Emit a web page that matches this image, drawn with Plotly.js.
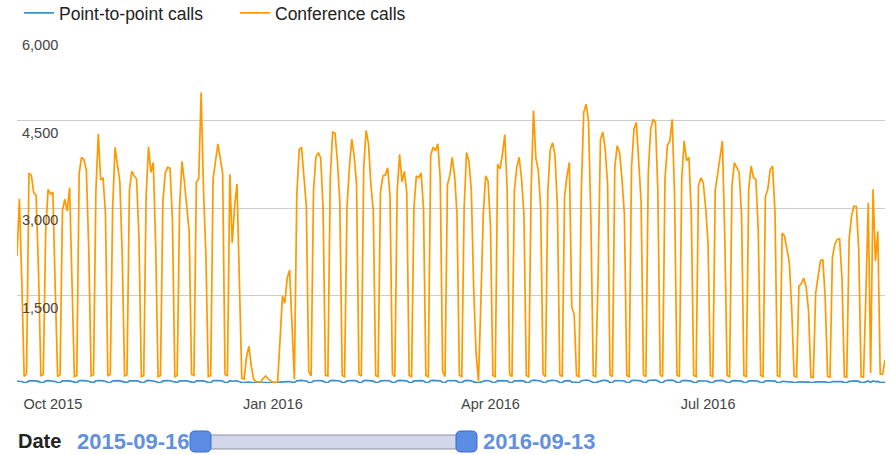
<!DOCTYPE html>
<html><head><meta charset="utf-8">
<script src="https://cdn.plot.ly/plotly-3.0.1.min.js"></script>
<style>html,body{margin:0;padding:0;background:#fff}#chart{width:891px;height:455px}</style>
</head><body><div id="chart"></div>
<script>
// ---- data ----
const startDate = '2015-09-16';
const endDate = '2016-09-13';
const seriesNames = ['Point-to-point calls', 'Conference calls'];

// daily values, Wed 2015-09-16 ... Tue 2016-09-13 (one row per Mon..Sun week)
const conferenceCalls = [
  2180, 3160, 1750, 110, 160,
  3600, 3560, 3260, 3220, 1900, 120, 150,
  2600, 3320, 3240, 3270, 1600, 110, 140,
  2950, 3150, 2950, 3350, 1700, 110, 130,
  3600, 3870, 3830, 3650, 2300, 120, 140,
  3300, 4270, 3490, 3510, 2900, 120, 150,
  3000, 4040, 3700, 3450, 2200, 120, 140,
  3300, 3630, 3550, 3500, 2500, 110, 130,
  3200, 4050, 3610, 3780, 2350, 110, 130,
  3100, 3600, 3700, 3680, 2800, 100, 130,
  3030, 3800, 3450, 3000, 2600, 150, 130,
  3440, 3500, 4980, 3300, 2200, 110, 130,
  3500, 3800, 4100, 3850, 3600, 150, 120,
  3580, 2400, 3030, 3410, 1750, 80, 70,
  450, 630, 280, 60, 25, 20, 20,
  80, 120, 70, 35, 15, 10, 20,
  740, 1490, 1370, 1800, 1935, 900, 60,
  3200, 4000, 4040, 3490, 3030, 200, 120,
  3300, 3870, 3950, 3860, 3000, 130, 120,
  3500, 4300, 4280, 3800, 3100, 130, 110,
  3000, 3700, 4180, 3900, 3400, 150, 120,
  3700, 4330, 4100, 3400, 2950, 130, 110,
  3260, 3550, 3560, 3690, 3200, 150, 110,
  3300, 3920, 3450, 3630, 3270, 130, 110,
  3000, 3550, 3520, 3600, 3000, 130, 110,
  3900, 4040, 3980, 4100, 3500, 200, 110,
  3400, 3550, 3870, 3550, 2900, 130, 110,
  3000, 3950, 3800, 3300, 1600, 500, 30,
  1400, 2900, 3550, 3460, 2700, 130, 110,
  3750, 3670, 3920, 4260, 3300, 150, 110,
  3300, 3700, 3870, 3500, 2900, 130, 110,
  3300, 4670, 3850, 3650, 3000, 150, 110,
  3300, 4000, 4120, 3900, 3000, 140, 110,
  3200, 3550, 3780, 1300, 1180, 130, 110,
  3300, 4640, 4780, 4500, 2800, 130, 110,
  1800, 4180, 4300, 4000, 3400, 140, 110,
  3700, 4070, 3950, 3500, 2900, 130, 110,
  3700, 4350, 4470, 3800, 3100, 140, 110,
  3600, 4350, 4520, 4470, 3300, 140, 110,
  3500, 4070, 4150, 4520, 3200, 140, 110,
  3500, 4150, 3810, 3870, 2900, 130, 110,
  3380, 3520, 3430, 3000, 2400, 130, 110,
  3300, 3600, 3850, 4150, 2500, 130, 110,
  3380, 3780, 3700, 3610, 2900, 130, 110,
  3320, 3720, 3520, 3490, 2600, 130, 110,
  3200, 3320, 3660, 3720, 2900, 130, 110,
  2570, 2520, 2290, 2060, 1250, 120, 100,
  1660, 1700, 1800, 1650, 1250, 100, 90,
  1540, 1830, 2090, 2120, 1450, 110, 100,
  2150, 2380, 2460, 2470, 1800, 110, 100,
  2460, 2860, 3030, 3030, 2300, 110, 100,
  1500, 3090, 170, 3320, 2090, 2600, 150,
  150, 400
];

const pointToPointCalls = [
  30, 34, 26, 9, 8,
  38, 41, 36, 35, 27, 8, 7,
  36, 40, 39, 37, 26, 9, 7,
  37, 42, 38, 36, 28, 8, 6,
  40, 44, 41, 38, 29, 9, 7,
  39, 45, 40, 37, 30, 8, 7,
  37, 43, 41, 36, 27, 9, 6,
  38, 41, 40, 38, 28, 8, 7,
  36, 44, 39, 40, 26, 8, 7,
  37, 42, 41, 39, 29, 7, 6,
  38, 43, 39, 35, 27, 9, 7,
  39, 40, 46, 37, 26, 8, 6,
  40, 42, 44, 41, 35, 9, 7,
  41, 30, 36, 38, 22, 7, 6,
  12, 14, 9, 6, 4, 3, 3,
  5, 7, 6, 4, 3, 3, 4,
  15, 22, 20, 24, 25, 12, 6,
  38, 44, 45, 39, 33, 9, 7,
  39, 43, 44, 42, 33, 8, 7,
  40, 46, 45, 41, 34, 9, 7,
  37, 42, 45, 43, 36, 8, 6,
  41, 46, 44, 39, 33, 9, 7,
  38, 41, 42, 43, 35, 8, 7,
  39, 44, 40, 42, 36, 9, 6,
  37, 41, 41, 42, 34, 8, 7,
  42, 45, 44, 45, 38, 10, 7,
  39, 41, 43, 41, 33, 8, 6,
  36, 44, 42, 38, 18, 8, 4,
  17, 33, 40, 39, 31, 8, 7,
  42, 41, 43, 46, 36, 9, 7,
  38, 42, 43, 40, 33, 8, 7,
  38, 49, 43, 41, 34, 9, 7,
  38, 44, 45, 43, 34, 8, 6,
  37, 40, 42, 16, 14, 8, 7,
  38, 48, 50, 47, 32, 8, 7,
  21, 45, 46, 44, 37, 9, 7,
  41, 44, 43, 39, 33, 8, 6,
  41, 47, 48, 42, 35, 9, 7,
  40, 47, 48, 48, 36, 9, 7,
  39, 45, 45, 48, 35, 8, 7,
  39, 45, 42, 43, 33, 8, 6,
  38, 39, 38, 34, 28, 8, 6,
  37, 40, 42, 45, 29, 8, 6,
  38, 42, 41, 40, 33, 8, 7,
  37, 41, 39, 39, 30, 8, 6,
  36, 37, 40, 41, 33, 8, 6,
  30, 29, 27, 24, 16, 7, 6,
  21, 21, 22, 20, 16, 6, 6,
  19, 22, 25, 25, 18, 7, 6,
  26, 28, 29, 29, 22, 7, 6,
  29, 33, 35, 35, 27, 7, 6,
  20, 35, 8, 37, 25, 28, 8,
  9, 12
];

const yTickValues = [0, 1500, 3000, 4500, 6000];
const yTickLabels = ['', '1,500', '3,000', '4,500', '6,000'];
const xTickDates = ['2015-10-01', '2016-01-01', '2016-04-01', '2016-07-01'];
const xTickLabels = ['Oct 2015', 'Jan 2016', 'Apr 2016', 'Jul 2016'];
const rangeLabel = 'Date';

// ---- build ----
const dates = [];
const t0 = Date.parse(startDate + 'T00:00:00Z');
for (let i = 0; i < conferenceCalls.length; i++) {
  dates.push(new Date(t0 + i * 86400000).toISOString().slice(0, 10));
}

const FONT = 'Liberation Sans, Arial, Helvetica, sans-serif';
const W = 891, H = 455, ML = 17, MR = 6, MT = 33, MB = 72;
const PW = W - ML - MR, PH = H - MT - MB;
const fx = x => (x - ML) / PW;
const fy = y => (H - MB - y) / PH;

function roundRect(x0, y0, x1, y1, r) {
  const p = (x, y) => fx(x).toFixed(5) + ',' + fy(y).toFixed(5);
  return 'M' + p(x0 + r, y0) + ' L' + p(x1 - r, y0) + ' Q' + p(x1, y0) + ' ' + p(x1, y0 + r) +
    ' L' + p(x1, y1 - r) + ' Q' + p(x1, y1) + ' ' + p(x1 - r, y1) +
    ' L' + p(x0 + r, y1) + ' Q' + p(x0, y1) + ' ' + p(x0, y1 - r) +
    ' L' + p(x0, y0 + r) + ' Q' + p(x0, y0) + ' ' + p(x0 + r, y0) + ' Z';
}

const traces = [
  { x: dates, y: pointToPointCalls, name: seriesNames[0], type: 'scatter', mode: 'lines',
    legend: 'legend', line: { color: '#3d8fcc', width: 1.7 } },
  { x: dates, y: conferenceCalls, name: seriesNames[1], type: 'scatter', mode: 'lines',
    legend: 'legend2', line: { color: '#ff9900', width: 1.7 } }
];

const legendBase = { orientation: 'h', xanchor: 'left', yref: 'container', yanchor: 'middle', y: 1 - 13 / H,
  xref: 'container', font: { size: 17.5, color: '#222', family: FONT }, bgcolor: 'rgba(0,0,0,0)', borderwidth: 0 };

const layout = {
  width: W, height: H,
  margin: { l: ML, r: MR, t: MT, b: MB, pad: 0, autoexpand: false },
  paper_bgcolor: '#ffffff', plot_bgcolor: '#ffffff',
  font: { family: FONT, color: '#444', size: 14.5 },
  showlegend: true,
  legend: Object.assign({}, legendBase, { x: 19 / W }),
  legend2: Object.assign({}, legendBase, { x: 235 / W }),
  xaxis: { type: 'date', range: [startDate, endDate], showgrid: false, zeroline: false, showline: false,
    tickmode: 'array', tickvals: xTickDates, ticktext: xTickLabels, ticks: '',
    ticklabelstandoff: 10, ticklabeloverflow: 'allow',
    tickfont: { size: 14.5, color: '#444', family: FONT }, fixedrange: true },
  yaxis: { range: [0, 6000], tickmode: 'array', tickvals: yTickValues, ticktext: yTickLabels,
    showgrid: true, gridcolor: '#cccccc', gridwidth: 1, zeroline: false, showline: false, ticks: '',
    ticklabelposition: 'inside', ticklabelshift: 12, ticklabelstandoff: 2, ticklabeloverflow: 'allow',
    tickfont: { size: 14.5, color: '#444', family: FONT }, fixedrange: true },
  shapes: [
    { type: 'path', xref: 'paper', yref: 'paper', path: roundRect(205, 435, 463, 449, 2),
      fillcolor: '#d3d7ea', line: { color: '#8f93a3', width: 1 } },
    { type: 'path', xref: 'paper', yref: 'paper', path: roundRect(190, 431, 211, 452, 5),
      fillcolor: '#5b8de4', line: { color: '#3b6acb', width: 1 } },
    { type: 'path', xref: 'paper', yref: 'paper', path: roundRect(456, 431, 477, 452, 5),
      fillcolor: '#5b8de4', line: { color: '#3b6acb', width: 1 } }
  ],
  annotations: [
    { text: '<b>' + rangeLabel + '</b>', xref: 'paper', yref: 'paper', x: fx(16), y: fy(441),
      xanchor: 'left', yanchor: 'middle', showarrow: false, font: { size: 20, color: '#222', family: FONT } },
    { text: '<b>' + startDate + '</b>', xref: 'paper', yref: 'paper', x: fx(75), y: fy(441),
      xanchor: 'left', yanchor: 'middle', showarrow: false, font: { size: 22, color: '#6290e0', family: FONT } },
    { text: '<b>' + endDate + '</b>', xref: 'paper', yref: 'paper', x: fx(481), y: fy(441),
      xanchor: 'left', yanchor: 'middle', showarrow: false, font: { size: 22, color: '#6290e0', family: FONT } }
  ]
};

Plotly.newPlot('chart', traces, layout, { displayModeBar: false, staticPlot: true });
</script>
</body></html>
